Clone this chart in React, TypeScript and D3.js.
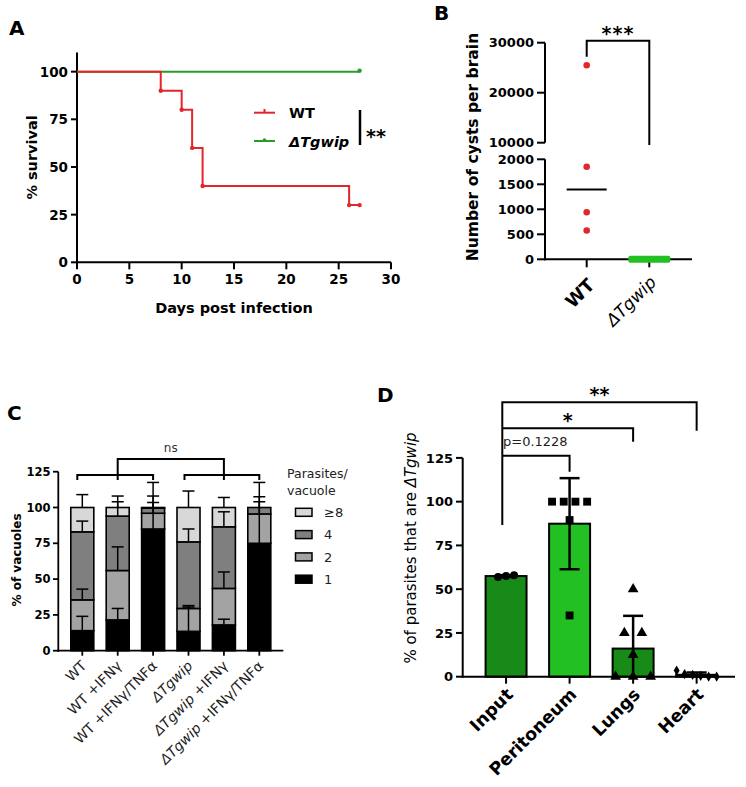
import React from 'react';
import * as d3 from 'd3';

const FONT = "'DejaVu Sans', Verdana, sans-serif";

// ---------- Panel A: survival ----------
const wtDays = [0, 8, 10, 11, 12, 26, 27];
const wtSurvival = [100, 90, 80, 60, 40, 30, 30];
const koDays = [0, 27];
const koSurvival = [100, 100];
const survXTicks = [0, 5, 10, 15, 20, 25, 30];
const survYTicks = [0, 25, 50, 75, 100];

// ---------- Panel B: cysts ----------
const cystGroups = ['WT', 'ΔTgwip'];
const wtCysts = [25500, 1850, 940, 575];
const koCysts = [0, 0, 0, 0, 0];
const cystLowTicks = [0, 500, 1000, 1500, 2000];
const cystHighTicks = [10000, 20000, 30000];

// ---------- Panel C: vacuoles ----------
const conditions = ['WT', 'WT +IFNγ', 'WT +IFNγ/TNFα', 'ΔTgwip', 'ΔTgwip +IFNγ', 'ΔTgwip +IFNγ/TNFα'];
const layerKeys = ['1', '2', '4', '≥8'];
const oneVals = [14, 21.5, 85, 13.5, 18, 75];
const twoVals = [21.5, 34.5, 11, 16, 25.5, 20.5];
const fourVals = [47.5, 38, 3.5, 46.5, 43, 4.5];
const eightVals = [17, 6, 0.5, 24, 13.5, 0];
const oneSd = [10, 8, 18.5, 17, 4, 29];
const twoSd = [7.5, 16.5, 12, 2, 11.5, 12];
const fourSd = [7.5, 10, 18, 9, 10.5, 17.5];
const eightSd = [9, 8, 0, 11.5, 7, 0];
const vacTicks = [0, 25, 50, 75, 100, 125];

// ---------- Panel D: tissues ----------
const tissues = ['Input', 'Peritoneum', 'Lungs', 'Heart'];
const inputVals = [57, 57.5, 58];
const peritoneumVals = [100, 100, 100, 100, 89.5, 35];
const lungsVals = [50, 25, 25, 12.5, 0, 0, 0];
const heartVals = [3.5, 1.5, 1, 0.5, 0, 0];
const tissueTicks = [0, 25, 50, 75, 100, 125];

const RED = '#e3262b';
const GREEN_LINE = '#2b9a2b';
const DARK_GREEN = '#178a17';
const BRIGHT_GREEN = '#22c022';

function Italicize({ text }: { text: string }) {
  const parts = text.split('ΔTgwip');
  const out: any[] = [];
  parts.forEach((p, i) => {
    if (i > 0) out.push(<tspan key={'i' + i} fontStyle="italic">ΔTgwip</tspan>);
    if (p) out.push(<tspan key={'p' + i}>{p}</tspan>);
  });
  return <>{out}</>;
}

function PanelA() {
  const x = d3.scaleLinear().domain([0, 30]).range([77, 391]);
  const y = d3.scaleLinear().domain([0, 110]).range([262.3, 52.6]);
  const mk = (days: number[], surv: number[]) =>
    d3.line<number>().curve(d3.curveStepAfter).x((d, i) => x(days[i])).y((d) => y(d))(surv) as string;
  return (
    <g fontFamily={FONT}>
      <text x={9} y={35} fontSize={20} fontWeight="bold">A</text>
      <line x1={x(0)} x2={x(0)} y1={y(0) + 1} y2={y(110)} stroke="#000" strokeWidth={2} />
      <line x1={x(0) - 1} x2={x(30)} y1={y(0)} y2={y(0)} stroke="#000" strokeWidth={2} />
      {survYTicks.map((t) => (
        <g key={t}>
          <line x1={x(0) - 6} x2={x(0)} y1={y(t)} y2={y(t)} stroke="#000" strokeWidth={2} />
          <text x={x(0) - 9} y={y(t)} dy="0.36em" textAnchor="end" fontSize={13.5} fontWeight="bold">{t}</text>
        </g>
      ))}
      {survXTicks.map((t) => (
        <g key={t}>
          <line x1={x(t)} x2={x(t)} y1={y(0)} y2={y(0) + 7} stroke="#000" strokeWidth={2} />
          <text x={x(t)} y={y(0) + 22} textAnchor="middle" fontSize={13.5} fontWeight="bold">{t}</text>
        </g>
      ))}
      <text x={(x(0) + x(30)) / 2} y={313} textAnchor="middle" fontSize={14.5} fontWeight="bold">Days post infection</text>
      <text transform={`translate(37,${y(55)}) rotate(-90)`} textAnchor="middle" fontSize={14.5} fontWeight="bold">% survival</text>
      <path d={mk(koDays, koSurvival)} fill="none" stroke={GREEN_LINE} strokeWidth={2} />
      <path d={mk(wtDays, wtSurvival)} fill="none" stroke={RED} strokeWidth={2} />
      {wtDays.slice(1).map((d, i) => (
        <circle key={i} cx={x(d)} cy={y(wtSurvival[i + 1])} r={2.2} fill={RED} />
      ))}
      <circle cx={x(koDays[1])} cy={y(koSurvival[1]) - 1} r={2.2} fill={GREEN_LINE} />
      <line x1={254} x2={275} y1={112.7} y2={112.7} stroke={RED} strokeWidth={2} />
      <line x1={264.5} x2={264.5} y1={109} y2={112.7} stroke={RED} strokeWidth={2} />
      <text x={289} y={118} fontSize={14.5} fontWeight="bold">WT</text>
      <line x1={254} x2={275} y1={141} y2={141} stroke={GREEN_LINE} strokeWidth={2} />
      <circle cx={264.5} cy={140} r={1.8} fill={GREEN_LINE} />
      <text x={289} y={147} fontSize={14.5} fontWeight="bold" fontStyle="italic">ΔTgwip</text>
      <line x1={360} x2={360} y1={110} y2={145} stroke="#000" strokeWidth={2.5} />
      <text x={366} y={143} fontSize={19} fontWeight="bold">**</text>
    </g>
  );
}

function PanelB() {
  const yLow = d3.scaleLinear().domain([0, 2000]).range([259.3, 159.3]);
  const yHigh = d3.scaleLinear().domain([10000, 30000]).range([142.7, 42.7]);
  const yv = (v: number) => (v <= 2000 ? yLow(v) : yHigh(v));
  const x = d3.scalePoint<string>().domain(cystGroups).range([586.7, 649.3]);
  const axX = 545;
  const wtMed = d3.median(wtCysts) as number;
  const koMed = d3.median(koCysts) as number;
  const xw = x('WT') as number;
  const xk = x('ΔTgwip') as number;
  return (
    <g fontFamily={FONT}>
      <text x={434} y={20} fontSize={20} fontWeight="bold">B</text>
      <line x1={axX} x2={axX} y1={yLow(0) + 1} y2={yLow(2000)} stroke="#000" strokeWidth={2} />
      <line x1={axX} x2={axX} y1={yHigh(10000)} y2={yHigh(30000)} stroke="#000" strokeWidth={2} />
      {cystLowTicks.map((t) => (
        <g key={t}>
          <line x1={axX - 8} x2={axX} y1={yLow(t)} y2={yLow(t)} stroke="#000" strokeWidth={2} />
          <text x={axX - 11} y={yLow(t)} dy="0.36em" textAnchor="end" fontSize={13} fontWeight="bold">{t}</text>
        </g>
      ))}
      {cystHighTicks.map((t) => (
        <g key={t}>
          <line x1={axX - 8} x2={axX} y1={yHigh(t)} y2={yHigh(t)} stroke="#000" strokeWidth={2} />
          <text x={axX - 11} y={yHigh(t)} dy="0.36em" textAnchor="end" fontSize={13} fontWeight="bold">{t}</text>
        </g>
      ))}
      <line x1={axX - 1} x2={692} y1={yLow(0)} y2={yLow(0)} stroke="#000" strokeWidth={2} />
      {cystGroups.map((g) => (
        <line key={g} x1={x(g)} x2={x(g)} y1={yLow(0)} y2={yLow(0) + 8} stroke="#000" strokeWidth={2} />
      ))}
      <text transform={`translate(478,147) rotate(-90)`} textAnchor="middle" fontSize={15.5} fontWeight="bold">Number of cysts per brain</text>
      <line x1={xw - 20} x2={xw + 20} y1={yv(wtMed)} y2={yv(wtMed)} stroke="#000" strokeWidth={2} />
      {wtCysts.map((v, i) => (
        <circle key={i} cx={xw} cy={yv(v)} r={3.3} fill={RED} />
      ))}
      <rect x={xk - 21} y={yv(koMed) - 3.5} width={42} height={7} rx={2} fill={BRIGHT_GREEN} />
      <path d={`M${xw},56.7V40.7H${xk}V145`} fill="none" stroke="#000" strokeWidth={2} />
      <text x={(xw + xk) / 2} y={40} textAnchor="middle" fontSize={19} fontWeight="bold" letterSpacing={1}>***</text>
      <text transform={`translate(${xw + 9},${yLow(0) + 27}) rotate(-45)`} textAnchor="end" fontSize={18} fontWeight="bold">WT</text>
      <text transform={`translate(${xk + 8},${yLow(0) + 24}) rotate(-45)`} textAnchor="end" fontSize={17} fontStyle="italic">ΔTgwip</text>
    </g>
  );
}

function PanelC() {
  const y = d3.scaleLinear().domain([0, 125]).range([650.7, 471.7]);
  const x = d3.scaleBand<string>().domain(conditions).range([58.3, 283.3]).paddingInner(0.35).paddingOuter(0.353);
  const bw = x.bandwidth();
  const layers = [oneVals, twoVals, fourVals, eightVals];
  const sds = [oneSd, twoSd, fourSd, eightSd];
  const fills = ['#000000', '#a3a3a3', '#7f7f7f', '#d8d8d8'];
  const table = conditions.map((c, i) => {
    const o: any = { cond: c };
    layerKeys.forEach((k, j) => (o[k] = layers[j][i]));
    return o;
  });
  const stack = d3.stack<any>().keys(layerKeys)(table);
  const cx = (i: number) => (x(conditions[i]) as number) + bw / 2;
  const legendRows = ['≥8', '4', '2', '1'];
  const legendFill: Record<string, string> = { '1': fills[0], '2': fills[1], '4': fills[2], '≥8': fills[3] };
  return (
    <g fontFamily={FONT}>
      <text x={7} y={420} fontSize={20} fontWeight="bold">C</text>
      {stack.map((s, j) => (
        <g key={j}>
          {s.map((d, i) => (
            <rect key={i} x={x(conditions[i])} y={y(d[1])} width={bw} height={y(d[0]) - y(d[1])}
              fill={fills[j]} stroke="#000" strokeWidth={1.6} />
          ))}
        </g>
      ))}
      {stack.map((s, j) => (
        <g key={'e' + j}>
          {s.map((d, i) => sds[j][i] > 0 ? (
            <g key={i}>
              <line x1={cx(i)} x2={cx(i)} y1={y(d[1])} y2={y(d[1] + sds[j][i])} stroke="#000" strokeWidth={1.5} />
              <line x1={cx(i) - 6} x2={cx(i) + 6} y1={y(d[1] + sds[j][i])} y2={y(d[1] + sds[j][i])} stroke="#000" strokeWidth={1.5} />
            </g>
          ) : null)}
        </g>
      ))}
      <line x1={58.3} x2={58.3} y1={y(0) + 1} y2={y(125)} stroke="#000" strokeWidth={1.8} />
      <line x1={57.4} x2={283.3} y1={y(0)} y2={y(0)} stroke="#000" strokeWidth={1.8} />
      {vacTicks.map((t) => (
        <g key={t}>
          <line x1={53} x2={58.3} y1={y(t)} y2={y(t)} stroke="#000" strokeWidth={1.8} />
          <text x={50.5} y={y(t)} dy="0.36em" textAnchor="end" fontSize={11.5} fontWeight="bold">{t}</text>
        </g>
      ))}
      {conditions.map((c, i) => (
        <g key={c}>
          <line x1={cx(i)} x2={cx(i)} y1={y(0)} y2={y(0) + 5} stroke="#000" strokeWidth={1.8} />
          <text transform={`translate(${cx(i) + 5},${y(0) + 16}) rotate(-45)`} textAnchor="end" fontSize={14} fill="#222">
            <Italicize text={c} />
          </text>
        </g>
      ))}
      <text transform={`translate(21,560) rotate(-90)`} textAnchor="middle" fontSize={12} fontWeight="bold">% of vacuoles</text>
      <path d={`M${cx(0) - 5},480V475H${cx(2)}V480M${cx(1)},480V459H${cx(4)}V480M${cx(3) - 4},480V475H${cx(5)}V480`}
        fill="none" stroke="#000" strokeWidth={2} />
      <text x={(cx(1) + cx(4)) / 2} y={452} textAnchor="middle" fontSize={12} fill="#333">ns</text>
      <text x={287} y={478} fontSize={12.5} fill="#222">Parasites/</text>
      <text x={287} y={495} fontSize={12.5} fill="#222">vacuole</text>
      {legendRows.map((k, i) => (
        <g key={k}>
          <rect x={295.5} y={508.3 + i * 22.3} width={16.5} height={8} fill={legendFill[k]} stroke="#000" strokeWidth={1.5} />
          <text x={324} y={512.3 + i * 22.3} dy="0.36em" fontSize={13} fill="#222">{k}</text>
        </g>
      ))}
    </g>
  );
}

function clusterOffsets(vals: number[], spacing: number, thr: number) {
  const groups: number[][] = [];
  vals.forEach((v, i) => {
    const g = groups.find((gr) => Math.abs(vals[gr[0]] - v) <= thr);
    if (g) g.push(i); else groups.push([i]);
  });
  const off = new Array(vals.length).fill(0);
  groups.forEach((g) => g.forEach((idx, k) => (off[idx] = (k - (g.length - 1) / 2) * spacing)));
  return off;
}

function PanelD() {
  const y = d3.scaleLinear().domain([0, 125]).range([676.7, 457.9]);
  const x = d3.scaleBand<string>().domain(tissues).range([462.7, 740]).paddingInner(0.355).paddingOuter(0.36);
  const bw = x.bandwidth();
  const sets = [inputVals, peritoneumVals, lungsVals, heartVals];
  const fills = [DARK_GREEN, BRIGHT_GREEN, DARK_GREEN, BRIGHT_GREEN];
  const symbols = [d3.symbolCircle, d3.symbolSquare, d3.symbolTriangle, d3.symbolDiamond];
  const sizes = [50, 62, 50, 30];
  const spacings = [8, 11.7, 17.5, 8];
  const cx = (i: number) => (x(tissues[i]) as number) + bw / 2;
  const yAx = y(0);
  return (
    <g fontFamily={FONT}>
      <text x={377} y={402} fontSize={20} fontWeight="bold">D</text>
      {sets.map((vals, i) => {
        const m = d3.mean(vals) as number;
        const sd = d3.deviation(vals) as number;
        const sym = d3.symbol().type(symbols[i]).size(sizes[i]);
        const offs = clusterOffsets(vals, spacings[i], 4);
        const lo = Math.max(0, m - sd);
        return (
          <g key={i}>
            <rect x={x(tissues[i])} y={y(m)} width={bw} height={yAx - y(m)} fill={fills[i]} stroke="#000" strokeWidth={2} />
            {vals.map((v, k) => (
              <path key={k} d={sym() as string} transform={`translate(${cx(i) + offs[k]},${y(v)})`} fill="#000" />
            ))}
            <line x1={cx(i)} x2={cx(i)} y1={y(lo)} y2={y(m + sd)} stroke="#000" strokeWidth={2.5} />
            <line x1={cx(i) - 10} x2={cx(i) + 10} y1={y(m + sd)} y2={y(m + sd)} stroke="#000" strokeWidth={2.5} />
            {m - sd >= 0 && (
              <line x1={cx(i) - 10} x2={cx(i) + 10} y1={y(m - sd)} y2={y(m - sd)} stroke="#000" strokeWidth={2.5} />
            )}
          </g>
        );
      })}
      <line x1={462.7} x2={462.7} y1={yAx + 1} y2={y(125)} stroke="#000" strokeWidth={2} />
      <line x1={461.7} x2={735} y1={yAx} y2={yAx} stroke="#000" strokeWidth={2} />
      {tissueTicks.map((t) => (
        <g key={t}>
          <line x1={456} x2={462.7} y1={y(t)} y2={y(t)} stroke="#000" strokeWidth={2} />
          <text x={453} y={y(t)} dy="0.36em" textAnchor="end" fontSize={13} fontWeight="bold">{t}</text>
        </g>
      ))}
      {tissues.map((t, i) => (
        <g key={t}>
          <line x1={cx(i)} x2={cx(i)} y1={yAx} y2={yAx + 7} stroke="#000" strokeWidth={2} />
          <text transform={`translate(${cx(i) + 8},${yAx + 19}) rotate(-45)`} textAnchor="end" fontSize={17.5} fontWeight="bold">{t}</text>
        </g>
      ))}
      <text transform={`translate(416,548) rotate(-90)`} textAnchor="middle" fontSize={15}>
        % of parasites that are <tspan fontStyle="italic">ΔTgwip</tspan>
      </text>
      <path d={`M502.3,525V402.3H${cx(3)}V430.7M502.3,428.3H${cx(2)}V441.7M502.3,455.7H${cx(1)}V471.7`}
        fill="none" stroke="#000" strokeWidth={2} />
      <text x={503} y={446} fontSize={13} fill="#222">p=0.1228</text>
      <text x={(502.3 + cx(2)) / 2} y={427} textAnchor="middle" fontSize={19} fontWeight="bold">*</text>
      <text x={(502.3 + cx(3)) / 2} y={401} textAnchor="middle" fontSize={19} fontWeight="bold">**</text>
    </g>
  );
}

export default function App() {
  return (
    <svg width={746} height={787} viewBox="0 0 746 787"
      style={{ position: 'absolute', left: 0, top: 0, background: '#fff' }}>
      <rect width={746} height={787} fill="#fff" />
      <PanelA />
      <PanelB />
      <PanelC />
      <PanelD />
    </svg>
  );
}
